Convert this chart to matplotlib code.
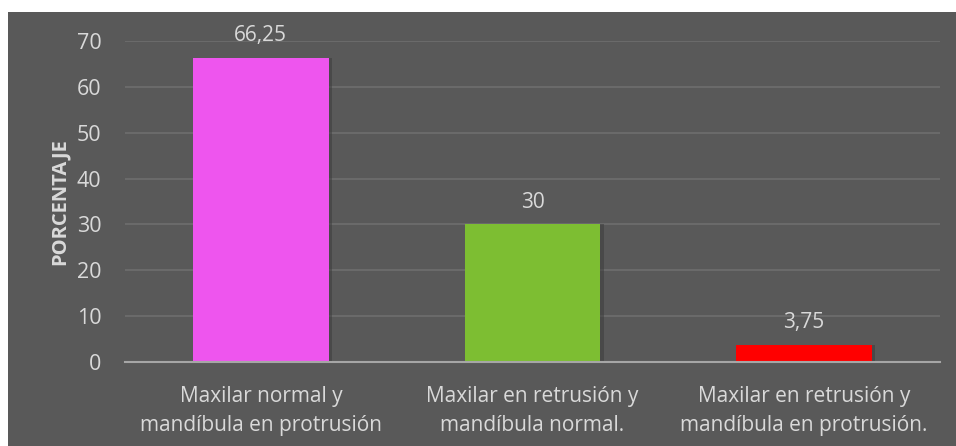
import matplotlib.pyplot as plt
from matplotlib.patches import Rectangle

categories = ['Maxilar normal y\nmandíbula en protrusión',
              'Maxilar en retrusión y\nmandíbula normal.',
              'Maxilar en retrusión y\nmandíbula en protrusión.']
values = [66.25, 30, 3.75]
value_labels = ['66,25', '30', '3,75']
bar_colors = ['#EE55EE', '#7DBE32', '#FF0000']
yticks = [0, 10, 20, 30, 40, 50, 60, 70]

bg = '#595959'
txt = '#D9D9D9'

plt.rcParams['font.family'] = ['Open Sans', 'DejaVu Sans']

fig = plt.figure(figsize=(9.56, 4.46), dpi=100)
fig.patch.set_facecolor('white')
# dark panel (chart area)
panel = Rectangle((8 / 956, 0), 1, 1 - 12 / 446, transform=fig.transFigure,
                  facecolor=bg, edgecolor='none', zorder=-10)
fig.add_artist(panel)

ax = fig.add_axes([125 / 956, 1 - 362 / 446, (940 - 125) / 956, (362 - 41) / 446])
ax.set_facecolor(bg)

x = range(len(categories))
# soft shadow behind bars
for i, v in zip(x, values):
    ax.bar(i + 0.012, v, width=0.5, color='#3a3a3a', alpha=0.5, zorder=2)
ax.bar(x, values, width=0.5, color=bar_colors, zorder=3)

for i, v, lab in zip(x, values, value_labels):
    ax.text(i, v + 2.6, lab, ha='center', va='bottom', color=txt, fontsize=15, clip_on=False)

ax.set_xlim(-0.5, 2.5)
ax.set_ylim(0, 70)
ax.set_yticks(yticks)
ax.set_xticks(list(x))
ax.set_xticklabels(categories, fontsize=15, color=txt, linespacing=1.55)
ax.tick_params(axis='y', labelsize=15.5, labelcolor=txt, length=0, pad=17)
ax.tick_params(axis='x', length=0, pad=17)
ax.grid(axis='y', color='#6E6E6E', linewidth=1.2, zorder=0)
ax.set_axisbelow(True)
for s in ['top', 'right', 'left']:
    ax.spines[s].set_visible(False)
ax.spines['bottom'].set_color('#A6A6A6')
ax.spines['bottom'].set_linewidth(1.5)
ax.spines['bottom'].set_zorder(4)

ax.set_ylabel('PORCENTAJE', fontsize=14.5, fontweight='bold', color=txt, labelpad=5)

fig.savefig('out.png', dpi=100, facecolor=fig.get_facecolor())
